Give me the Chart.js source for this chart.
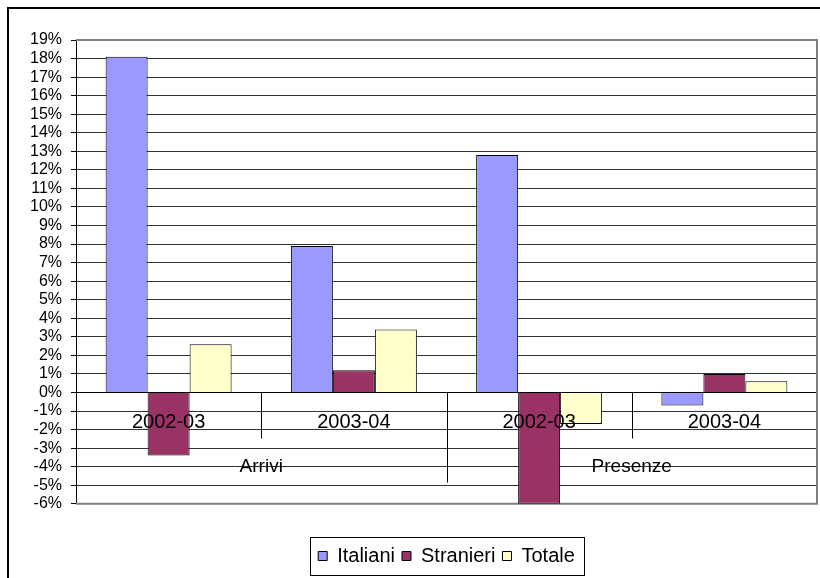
<!DOCTYPE html>
<html lang="it">
<head>
  <meta charset="UTF-8">
  <title>Arrivi e presenze</title>
  <script src="https://cdn.jsdelivr.net/npm/chart.js"></script>
  <style>
    body { margin: 0; background: #fff; }
    #wrap { width: 820px; height: 578px; position: relative; }
  </style>
</head>
<body>
  <div id="wrap"><canvas id="chart" width="820" height="578"></canvas></div>

  <script>
    // anni (categorie) e gruppi
    const years = ['2002-03', '2003-04', '2002-03', '2003-04'];
    const groups = ['Arrivi', 'Presenze'];

    // variazioni percentuali
    const italiani = [18.1, 7.9, 12.8, -0.7];
    const stranieri = [-3.4, 1.2, -6.0, 1.0];
    const totale = [2.6, 3.4, -1.7, 0.6];

    const yMin = -6, yMax = 19;
    const FONT = '"Liberation Sans", Arial, sans-serif';

    // bordo esterno, bordo area grafico, separatori, etichette
    const extras = {
      id: 'extras',
      beforeDraw(chart) {
        const ctx = chart.ctx;
        ctx.save();
        ctx.strokeStyle = '#000';
        ctx.lineWidth = 2;
        ctx.beginPath();
        ctx.moveTo(8, 578);
        ctx.lineTo(8, 8);
        ctx.lineTo(820, 8);
        ctx.stroke();
        ctx.restore();
      },
      beforeDatasetsDraw(chart) {
        const { ctx, chartArea: a, scales: { x, y } } = chart;
        ctx.save();
        ctx.strokeStyle = '#808080';
        ctx.lineWidth = 2;
        ctx.beginPath();
        ctx.moveTo(a.left, a.top);
        ctx.lineTo(a.right, a.top);
        ctx.lineTo(a.right, a.bottom);
        ctx.lineTo(a.left, a.bottom);
        ctx.stroke();

        const y0 = y.getPixelForValue(0);
        ctx.strokeStyle = '#000';
        ctx.lineWidth = 1;
        for (let i = 0; i < years.length - 1; i++) {
          const px = Math.round((x.getPixelForValue(i) + x.getPixelForValue(i + 1)) / 2) + 0.5;
          const len = i % 2 === 1 ? 90 : 46;
          ctx.beginPath();
          ctx.moveTo(px, y0);
          ctx.lineTo(px, y0 + len);
          ctx.stroke();
        }
        ctx.restore();
      },
      afterDatasetsDraw(chart) {
        const { ctx, scales: { x, y } } = chart;
        const y0 = y.getPixelForValue(0);
        ctx.save();
        ctx.fillStyle = '#000';
        ctx.textAlign = 'center';
        ctx.textBaseline = 'middle';
        ctx.font = '20px ' + FONT;
        years.forEach((lab, i) => ctx.fillText(lab, x.getPixelForValue(i), y0 + 30));
        ctx.font = '19px ' + FONT;
        groups.forEach((g, k) => {
          const px = (x.getPixelForValue(2 * k) + x.getPixelForValue(2 * k + 1)) / 2;
          ctx.fillText(g, px, y0 + 74);
        });
        ctx.restore();
      },
      afterDraw(chart) {
        const boxes = chart.legend.legendHitBoxes;
        if (!boxes || !boxes.length) return;
        const left = Math.min(...boxes.map(b => b.left)) - 8;
        const right = Math.max(...boxes.map(b => b.left + b.width)) + 9;
        const top = Math.min(...boxes.map(b => b.top)) - 9;
        const bottom = Math.max(...boxes.map(b => b.top + b.height)) + 9;
        const ctx = chart.ctx;
        ctx.save();
        ctx.strokeStyle = '#000';
        ctx.lineWidth = 1;
        ctx.strokeRect(Math.round(left) + 0.5, Math.round(top) + 0.5,
          Math.round(right - left), Math.round(bottom - top));
        ctx.restore();
      }
    };

    new Chart(document.getElementById('chart'), {
      type: 'bar',
      data: {
        labels: years,
        datasets: [
          { label: 'Italiani', data: italiani, backgroundColor: '#9999FF' },
          { label: 'Stranieri', data: stranieri, backgroundColor: '#993366' },
          { label: 'Totale', data: totale, backgroundColor: '#FFFFCC' }
        ]
      },
      options: {
        responsive: false,
        animation: false,
        datasets: {
          bar: {
            borderColor: '#000',
            borderWidth: 1,
            categoryPercentage: 0.68,
            barPercentage: 1
          }
        },
        layout: { padding: { left: 0, top: 40, right: 3, bottom: 2 } },
        plugins: {
          tooltip: { enabled: false },
          legend: {
            position: 'bottom',
            fullSize: false,
            title: { display: true, text: ' ', font: { size: 1 }, padding: { top: 0, bottom: 34 } },
            labels: {
              color: '#000',
              font: { family: FONT, size: 20 },
              boxWidth: 9,
              boxHeight: 9,
              padding: 7
            }
          }
        },
        scales: {
          x: {
            type: 'category',
            position: { y: 0 },
            grid: { display: false, drawTicks: false },
            border: { display: true, color: '#000', width: 1 },
            ticks: { display: false }
          },
          y: {
            min: yMin,
            max: yMax,
            afterFit(scale) { scale.width = 76; },
            ticks: {
              stepSize: 1,
              autoSkip: false,
              color: '#000',
              font: { family: FONT, size: 16 },
              padding: 9,
              callback: v => v + '%'
            },
            grid: { color: '#333', lineWidth: 1, tickLength: 5, tickColor: '#000' },
            border: { display: true, color: '#000', width: 1 }
          }
        }
      },
      plugins: [extras]
    });
  </script>
</body>
</html>
